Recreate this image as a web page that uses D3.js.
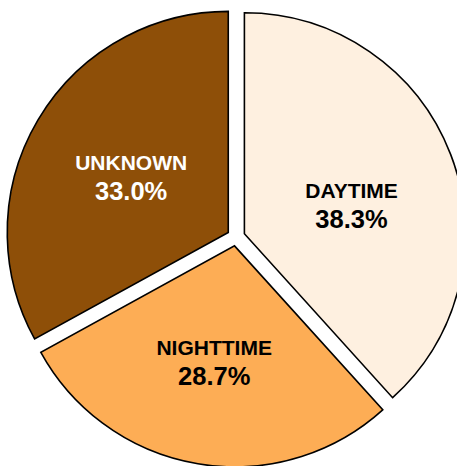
<!DOCTYPE html>
<html>
<head>
<meta charset="utf-8">
<script src="https://cdn.jsdelivr.net/npm/d3@7"></script>
<style>
  html, body { margin: 0; padding: 0; background: #fff; }
  svg { display: block; }
</style>
</head>
<body>
<svg id="chart" width="457" height="466"></svg>
<script>
// ---- data ----
const categories = ["DAYTIME", "NIGHTTIME", "UNKNOWN"];
const values = [38.3, 28.7, 33.0];
const colors = ["#FEF0E0", "#FDAD55", "#8E4F08"];
const textColors = ["#000000", "#000000", "#FFFFFF"];

// ---- layout ----
const W = 457, H = 466;
const cx = 236, cy = 237, R = 221, explode = 9;
const labelNudge = { DAYTIME: [4, 12], NIGHTTIME: [-2, 8], UNKNOWN: [-2, 2] };

const data = categories.map((c, i) => ({ name: c, value: values[i], color: colors[i], text: textColors[i] }));

const pie = d3.pie().value(d => d.value).sort(null).startAngle(0).endAngle(2 * Math.PI);
const arcs = pie(data);
const arc = d3.arc().innerRadius(0).outerRadius(R);

const svg = d3.select("#chart");
const g = svg.append("g").attr("transform", `translate(${cx},${cy})`);

const slice = g.selectAll("g.slice").data(arcs).enter().append("g")
  .attr("class", "slice")
  .attr("transform", d => {
    const a = (d.startAngle + d.endAngle) / 2;
    return `translate(${explode * Math.sin(a)},${-explode * Math.cos(a)})`;
  });

slice.append("path")
  .attr("d", arc)
  .attr("fill", d => d.data.color)
  .attr("stroke", "#000")
  .attr("stroke-width", 1.6)
  .attr("stroke-linejoin", "miter");

const lab = slice.append("text")
  .attr("text-anchor", "middle")
  .attr("font-family", "'Liberation Sans', Arial, sans-serif")
  .attr("font-weight", "bold")
  .attr("fill", d => d.data.text)
  .attr("transform", d => {
    const a = (d.startAngle + d.endAngle) / 2;
    const r = R * 0.5;
    const n = labelNudge[d.data.name];
    return `translate(${r * Math.sin(a) + n[0]},${-r * Math.cos(a) + n[1]})`;
  });

lab.append("tspan").attr("x", 0).attr("y", -8).attr("font-size", 21)
  .text(d => d.data.name);
lab.append("tspan").attr("x", 0).attr("y", 22).attr("font-size", 25.5)
  .text(d => d3.format(".1f")(d.data.value) + "%");
</script>
</body>
</html>
